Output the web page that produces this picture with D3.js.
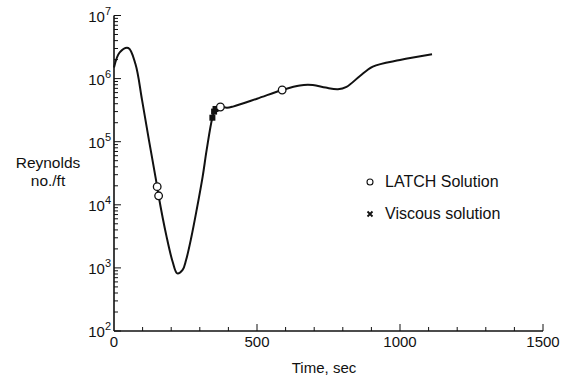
<!DOCTYPE html>
<html>
<head>
<meta charset="utf-8">
<script src="https://cdn.jsdelivr.net/npm/d3@7"></script>
<style>
  html, body { margin: 0; padding: 0; background: #fff; }
  svg { display: block; }
  text { font-family: "Liberation Sans", Arial, Helvetica, sans-serif; fill: #111; }
</style>
</head>
<body>
<svg id="chart" width="567" height="381"></svg>
<script>
// Reynolds number per foot along the trajectory (time in seconds)
const curveTime  = [0, 20, 50, 75, 98, 122, 151, 156, 184, 205, 221, 240, 252, 270, 289, 310, 324, 344, 355, 372, 395, 416, 500, 588, 650, 695, 740, 783, 813, 860, 905, 1000, 1112];
const curveValue = [1.5e6, 2.6e6, 3.05e6, 1.7e6, 4.6e5, 1.07e5, 1.94e4, 1.39e4, 3.1e3, 1.25e3, 820, 930, 1330, 3.0e3, 8.3e3, 2.8e4, 7.4e4, 2.4e5, 3.3e5, 3.55e5, 3.45e5, 3.6e5, 4.8e5, 6.6e5, 7.8e5, 7.9e5, 7.2e5, 6.8e5, 7.4e5, 1.1e6, 1.55e6, 1.97e6, 2.43e6];

// LATCH solution points
const latchTime  = [151, 156, 372, 588];
const latchValue = [1.94e4, 1.39e4, 3.55e5, 6.6e5];

// Viscous solution points
const viscTime  = [344, 350, 355];
const viscValue = [2.4e5, 3.0e5, 3.3e5];

// Axis ticks
const xTickLabels = [0, 500, 1000, 1500];
const yDecades = [2, 3, 4, 5, 6, 7];

const svg = d3.select("#chart");

const x = d3.scaleLinear().domain([0, 1500]).range([114, 543]);
const y = d3.scaleLog().domain([1e2, 1e7]).range([331, 15.5]);

// ----- axes -----
const ink = "#111";
svg.append("line").attr("x1", x(0)).attr("x2", x(0)).attr("y1", y(1e7)).attr("y2", y(1e2))
  .attr("stroke", ink).attr("stroke-width", 1.6);
svg.append("line").attr("x1", x(0)).attr("x2", x(1500)).attr("y1", y(1e2)).attr("y2", y(1e2))
  .attr("stroke", ink).attr("stroke-width", 1.4);

// y minor/major ticks (pointing inward)
const yTicks = [];
for (let d = 2; d < 7; d++) for (let m = 1; m < 10; m++) yTicks.push({ v: m * Math.pow(10, d), major: m === 1 });
yTicks.push({ v: 1e7, major: true });
svg.append("g").selectAll("line").data(yTicks).join("line")
  .attr("x1", x(0)).attr("x2", d => x(0) + (d.major ? 7 : 4))
  .attr("y1", d => y(d.v)).attr("y2", d => y(d.v))
  .attr("stroke", ink).attr("stroke-width", 1);

// x ticks every 100 s (pointing inward)
const xTicks = d3.range(100, 1501, 100);
svg.append("g").selectAll("line").data(xTicks).join("line")
  .attr("x1", d => x(d)).attr("x2", d => x(d))
  .attr("y1", y(1e2)).attr("y2", d => y(1e2) - (d % 500 === 0 ? 7 : 4))
  .attr("stroke", ink).attr("stroke-width", 1);

// y tick labels: 10 with superscript exponent
const yLab = svg.append("g").selectAll("text").data(yDecades).join("text")
  .attr("x", x(0) - 3).attr("y", d => y(Math.pow(10, d)) + 6)
  .attr("text-anchor", "end").attr("font-size", 15);
yLab.append("tspan").text("10");
yLab.append("tspan").attr("dy", -7).attr("font-size", 11).text(d => d);

// x tick labels
svg.append("g").selectAll("text").data(xTickLabels).join("text")
  .attr("x", d => x(d)).attr("y", 347)
  .attr("text-anchor", "middle").attr("font-size", 15).text(d => d);

// axis titles
svg.append("text").attr("x", 324).attr("y", 373).attr("text-anchor", "middle")
  .attr("font-size", 15).text("Time, sec");
svg.append("text").attr("x", 48).attr("y", 168).attr("text-anchor", "middle")
  .attr("font-size", 15.5).text("Reynolds");
svg.append("text").attr("x", 48).attr("y", 186).attr("text-anchor", "middle")
  .attr("font-size", 15.5).text("no./ft");

// ----- curve -----
const pts = curveTime.map((t, i) => [t, curveValue[i]]);
const line = d3.line().x(d => x(d[0])).y(d => y(d[1])).curve(d3.curveCatmullRom.alpha(0.5));
svg.append("path").datum(pts).attr("d", line)
  .attr("fill", "none").attr("stroke", ink).attr("stroke-width", 2).attr("stroke-linejoin", "round");

// ----- markers -----
function cross(g, cx, cy, s, w) {
  g.append("path").attr("d", `M${cx - s},${cy - s}L${cx + s},${cy + s}M${cx - s},${cy + s}L${cx + s},${cy - s}`)
    .attr("stroke", ink).attr("stroke-width", w).attr("fill", "none");
}
const vg = svg.append("g");
viscTime.forEach((t, i) => {
  vg.append("rect").attr("x", x(t) - 3).attr("y", y(viscValue[i]) - 3)
    .attr("width", 6).attr("height", 6).attr("fill", ink);
});

svg.append("g").selectAll("circle").data(latchTime.map((t, i) => [t, latchValue[i]])).join("circle")
  .attr("cx", d => x(d[0])).attr("cy", d => y(d[1])).attr("r", 3.8)
  .attr("fill", "#fff").attr("stroke", ink).attr("stroke-width", 1.3);

// ----- legend -----
svg.append("circle").attr("cx", 370).attr("cy", 182).attr("r", 3)
  .attr("fill", "#fff").attr("stroke", ink).attr("stroke-width", 1.1);
svg.append("text").attr("x", 385).attr("y", 187).attr("font-size", 16).text("LATCH Solution");
cross(svg, 370, 214, 2.5, 1.8);
svg.append("text").attr("x", 385).attr("y", 219).attr("font-size", 16).text("Viscous solution");
</script>
</body>
</html>
